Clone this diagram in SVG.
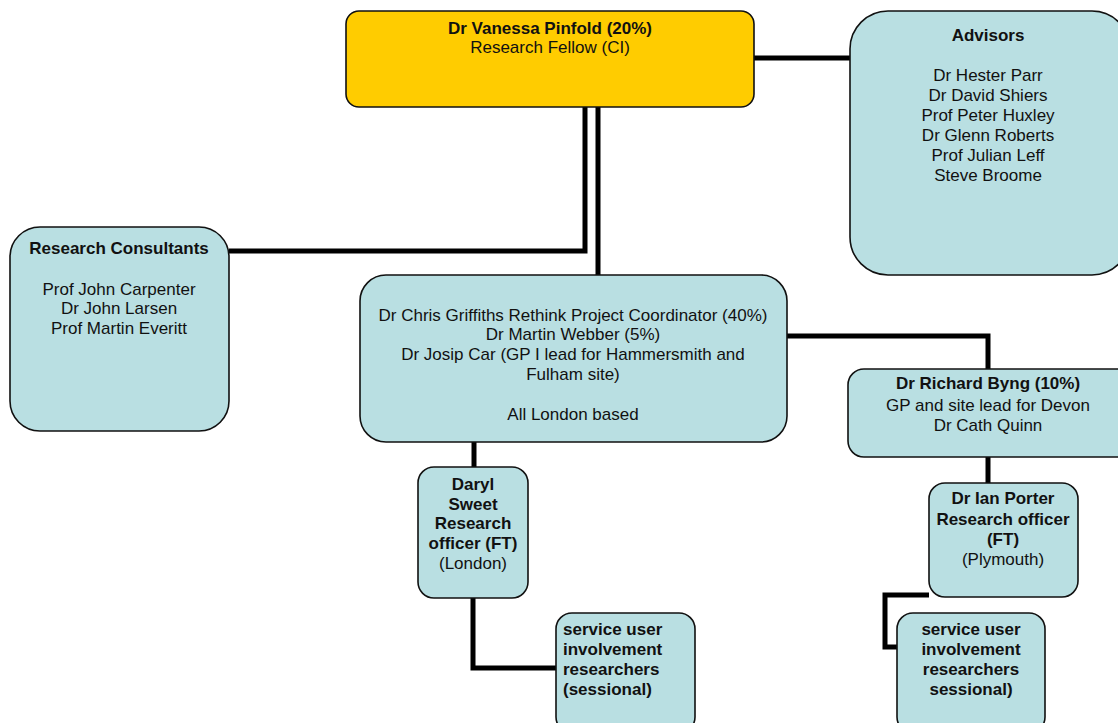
<svg xmlns="http://www.w3.org/2000/svg" width="1118" height="723" viewBox="0 0 1118 723">
<style>
.n{fill:#B9DFE2;stroke:#111;stroke-width:1.6}
.y{fill:#FFCC00;stroke:#111;stroke-width:1.6}
.c{fill:none;stroke:#000;stroke-width:5;stroke-linejoin:miter}
text{font-family:"Liberation Sans",Arial,sans-serif;font-size:17px;fill:#111;text-anchor:middle}
.b{font-weight:bold}
.l{text-anchor:start}
</style>
<rect width="1118" height="723" fill="#fff"/>
<g id="connectors">
<path class="c" d="M754 58H850"/>
<path class="c" d="M585 107V251H229"/>
<path class="c" d="M598 107V275"/>
<path class="c" d="M787 336H988V369"/>
<path class="c" d="M474 442V467"/>
<path class="c" d="M988 457V483"/>
<path class="c" d="M473 598V668H556"/>
<path class="c" d="M929 595H885V647H897"/>
</g>
<g id="pinfold">
<rect class="y" x="346" y="11" width="408" height="96" rx="13"/>
<text x="550" y="34" class="b">Dr Vanessa Pinfold (20%)</text>
<text x="550" y="53">Research Fellow (CI)</text>
</g>
<g id="advisors">
<rect class="n" x="850" y="11" width="280" height="264" rx="38"/>
<text x="988" y="41" class="b">Advisors</text>
<text x="988" y="81">Dr Hester Parr</text>
<text x="988" y="101">Dr David Shiers</text>
<text x="988" y="121">Prof Peter Huxley</text>
<text x="988" y="141">Dr Glenn Roberts</text>
<text x="988" y="161">Prof Julian Leff</text>
<text x="988" y="181">Steve Broome</text>
</g>
<g id="consultants">
<rect class="n" x="10" y="227" width="219" height="204" rx="30"/>
<text x="119" y="254" class="b">Research Consultants</text>
<text x="119" y="295">Prof John Carpenter</text>
<text x="119" y="314">Dr John Larsen</text>
<text x="119" y="334">Prof Martin Everitt</text>
</g>
<g id="london">
<rect class="n" x="360" y="275" width="427" height="167" rx="26"/>
<text x="573" y="321">Dr Chris Griffiths Rethink Project Coordinator (40%)</text>
<text x="573" y="340">Dr Martin Webber (5%)</text>
<text x="573" y="360">Dr Josip Car (GP I lead for Hammersmith and</text>
<text x="573" y="380">Fulham site)</text>
<text x="573" y="420">All London based</text>
</g>
<g id="byng">
<rect class="n" x="848" y="369" width="290" height="88" rx="16"/>
<text x="988" y="389" class="b">Dr Richard Byng (10%)</text>
<text x="988" y="411">GP and site lead for Devon</text>
<text x="988" y="431">Dr Cath Quinn</text>
</g>
<g id="sweet">
<rect class="n" x="418" y="467" width="110" height="131" rx="16"/>
<text x="473" y="490" class="b">Daryl</text>
<text x="473" y="510" class="b">Sweet</text>
<text x="473" y="529" class="b">Research</text>
<text x="473" y="549" class="b">officer (FT)</text>
<text x="473" y="569">(London)</text>
</g>
<g id="porter">
<rect class="n" x="929" y="483" width="149" height="114" rx="16"/>
<text x="1003" y="504" class="b">Dr Ian Porter</text>
<text x="1003" y="525" class="b">Research officer</text>
<text x="1003" y="545" class="b">(FT)</text>
<text x="1003" y="565">(Plymouth)</text>
</g>
<g id="sui-london">
<rect class="n" x="556" y="613" width="139" height="120" rx="16"/>
<text x="563" y="635" class="b l">service user</text>
<text x="563" y="655" class="b l">involvement</text>
<text x="563" y="675" class="b l">researchers</text>
<text x="563" y="695" class="b l">(sessional)</text>
</g>
<g id="sui-plymouth">
<rect class="n" x="897" y="613" width="148" height="120" rx="16"/>
<text x="971" y="635" class="b">service user</text>
<text x="971" y="655" class="b">involvement</text>
<text x="971" y="675" class="b">researchers</text>
<text x="971" y="695" class="b">sessional)</text>
</g>
</svg>
